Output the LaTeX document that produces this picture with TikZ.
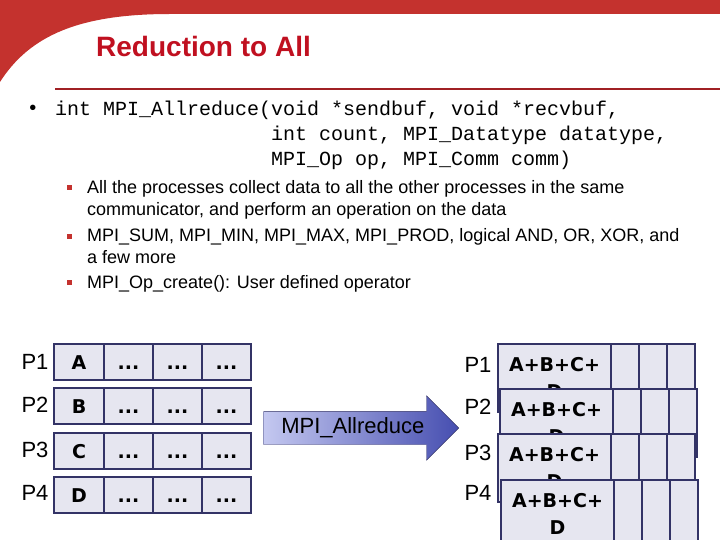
\documentclass[tikz,border=0pt]{standalone}
\usepackage{fontspec}
\setmainfont{Liberation Sans}
\setmonofont{Liberation Mono}
\newfontfamily\cellfont{DejaVu Sans}
\usetikzlibrary{positioning, shapes.arrows}

\definecolor{bandred}{RGB}{196,50,46}
\definecolor{titlered}{RGB}{192,16,32}
\definecolor{rulered}{RGB}{160,32,36}
\definecolor{cellfill}{RGB}{230,230,240}
\definecolor{cellline}{RGB}{51,51,102}
\definecolor{arrowlight}{RGB}{196,200,240}
\definecolor{arrowdark}{RGB}{70,78,176}

\begin{document}
\begin{tikzpicture}[
        x=1pt, y=-1pt,
        box/.style={draw=cellline, fill=cellfill, line width=1.5pt, inner sep=0pt, outer sep=0pt},
        cell/.style={box, minimum width=49pt, minimum height=36pt, text height=14pt, text depth=0pt, font=\cellfont\fontsize{19}{24}\selectfont\bfseries},
        sumcell/.style={box, minimum width=113pt, minimum height=68pt, align=center, font=\cellfont\fontsize{19}{27}\selectfont\bfseries},
        blank/.style={box, minimum width=28pt, minimum height=68pt},
        proc/.style={font=\fontsize{22}{26}\selectfont},
        code/.style={anchor=base west, inner sep=0pt, font=\fontsize{20}{25}\selectfont\ttfamily},
        item/.style={anchor=base west, inner sep=0pt, align=left, font=\fontsize{18}{22}\selectfont},
        square/.style={fill=bandred, minimum size=5pt, inner sep=0pt}
    ]
        \useasboundingbox (0,0) rectangle (720,540);

        % slide header
        \fill[bandred] (0,0) -- (720,0) -- (720,14) -- (170,14) .. controls (80,14) and (30,35) .. (0,82) -- cycle;
        \node[anchor=base west, inner sep=0pt, text=titlered, font=\fontsize{28}{32}\selectfont\bfseries] (title) at (96,57) {Reduction to All};
        \draw[rulered, line width=2pt] (55,89) -- (720,89);

        % prototype
        \node[font=\fontsize{20}{24}\selectfont] (dot) at (33,110) {•};
        \node[code] (proto1) at (55,116) {int MPI\_Allreduce(void *sendbuf, void *recvbuf,};
        \node[code] (proto2) at (271,141) {int count, MPI\_Datatype datatype,};
        \node[code] (proto3) at (271,166) {MPI\_Op op, MPI\_Comm comm)};

        % base of a two-line item is its last line
        \node[square] (sq1) at (69,188) {};
        \node[item] (item1) at (87,215) {All the processes collect data to all the other processes in the same\\communicator, and perform an operation on the data};
        \node[square] (sq2) at (69,236) {};
        \node[item] (item2) at (87,263) {MPI\_SUM, MPI\_MIN, MPI\_MAX, MPI\_PROD, logical AND, OR, XOR, and\\a few more};
        \node[square] (sq3) at (69,282) {};
        \node[item] (item3) at (87,288) {MPI\_Op\_create(): User defined operator};

        % before
        \node[proc] (lp1) at (35,362) {P1};
        \node[proc] (lp2) at (35,405) {P2};
        \node[proc] (lp3) at (35,450) {P3};
        \node[proc] (lp4) at (35,493) {P4};

        \node[cell, minimum width=50pt] (l1a) at (79,362) {A};
        \node[cell, right=0pt of l1a] (l1b) {...};
        \node[cell, right=0pt of l1b] (l1c) {...};
        \node[cell, right=0pt of l1c] (l1d) {...};

        \node[cell, minimum width=50pt] (l2a) at (79,406) {B};
        \node[cell, right=0pt of l2a] (l2b) {...};
        \node[cell, right=0pt of l2b] (l2c) {...};
        \node[cell, right=0pt of l2c] (l2d) {...};

        \node[cell, minimum width=50pt] (l3a) at (79,451) {C};
        \node[cell, right=0pt of l3a] (l3b) {...};
        \node[cell, right=0pt of l3b] (l3c) {...};
        \node[cell, right=0pt of l3c] (l3d) {...};

        \node[cell, minimum width=50pt] (l4a) at (79,495) {D};
        \node[cell, right=0pt of l4a] (l4b) {...};
        \node[cell, right=0pt of l4b] (l4c) {...};
        \node[cell, right=0pt of l4c] (l4d) {...};

        % operation
        \node[single arrow, draw=cellline, left color=arrowlight, right color=arrowdark, minimum height=195pt, single arrow head extend=15.5pt, single arrow tip angle=90, inner xsep=4pt, inner ysep=7pt, text height=15pt, text depth=4pt, font=\fontsize{22}{26}\selectfont, anchor=tip] (allreduce) at (459,428) {MPI\_Allreduce};

        % after
        \node[proc] (rp1) at (478,365) {P1};
        \node[proc] (rp2) at (478,407) {P2};
        \node[proc] (rp3) at (478,453) {P3};
        \node[proc] (rp4) at (478,493) {P4};

        \node[sumcell] (r1a) at (554.5,378) {A+B+C+\\D};
        \node[blank, right=0pt of r1a] (r1b) {};
        \node[blank, right=0pt of r1b] (r1c) {};
        \node[blank, right=0pt of r1c] (r1d) {};

        \node[sumcell] (r2a) at (556.5,423) {A+B+C+\\D};
        \node[blank, right=0pt of r2a] (r2b) {};
        \node[blank, right=0pt of r2b] (r2c) {};
        \node[blank, right=0pt of r2c] (r2d) {};

        \node[sumcell] (r3a) at (554.5,468) {A+B+C+\\D};
        \node[blank, right=0pt of r3a] (r3b) {};
        \node[blank, right=0pt of r3b] (r3c) {};
        \node[blank, right=0pt of r3c] (r3d) {};

        \node[sumcell] (r4a) at (557.5,514) {A+B+C+\\D};
        \node[blank, right=0pt of r4a] (r4b) {};
        \node[blank, right=0pt of r4b] (r4c) {};
        \node[blank, right=0pt of r4c] (r4d) {};

    \end{tikzpicture}
\end{document}
